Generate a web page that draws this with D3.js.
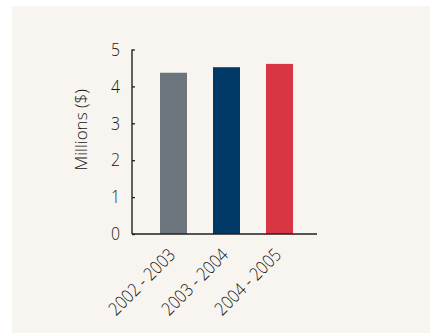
<!DOCTYPE html>
<html>
<head>
<meta charset="utf-8">
<script src="https://cdn.jsdelivr.net/npm/d3@7"></script>
<style>
  html, body { margin: 0; padding: 0; background: #ffffff; }
  svg { display: block; }
  text { font-family: "Open Sans", "Noto Sans", sans-serif; fill: #141414; }
</style>
</head>
<body>
<svg id="chart" width="430" height="333"></svg>
<script>
// Annual amounts, in millions of dollars
const periods = ["2002 - 2003", "2003 - 2004", "2004 - 2005"];
const amounts = [4.37, 4.52, 4.61];
const barColors = ["#6c757c", "#003866", "#d83545"];
const yTicks = [0, 1, 2, 3, 4, 5];

const svg = d3.select("#chart");

// Panel background
svg.append("rect")
  .attr("x", 12).attr("y", 6)
  .attr("width", 418).attr("height", 327)
  .attr("fill", "#f8f4ef");

const plotLeft = 132, plotRight = 317, plotTop = 49.5, plotBottom = 234;
const squeeze = 0.88; // horizontal compression of the label glyphs

// Bar centres along the x axis
const xc = d3.scalePoint()
  .domain(periods)
  .range([173.5, 279.5]);

const barW = 27;

const y = d3.scaleLinear().domain([0, 5]).range([plotBottom, plotTop]);

svg.append("g")
  .selectAll("rect")
  .data(periods)
  .join("rect")
  .attr("x", d => xc(d) - barW / 2)
  .attr("y", (d, i) => y(amounts[i]))
  .attr("width", barW)
  .attr("height", (d, i) => y(0) - y(amounts[i]))
  .attr("fill", (d, i) => barColors[i]);

// Y axis with inward ticks
const yAxis = svg.append("g")
  .attr("transform", `translate(${plotLeft},0)`)
  .call(d3.axisLeft(y).tickValues(yTicks).tickSize(-3).tickPadding(12 / squeeze).tickFormat(d3.format("d")));
yAxis.select(".domain").attr("d", `M0,${plotTop}V${plotBottom}`).attr("stroke", "#231f20").attr("stroke-width", 1.4);
yAxis.selectAll(".tick line").attr("stroke", "#231f20").attr("stroke-width", 1.3);
yAxis.selectAll(".tick text")
  .attr("transform", `scale(${squeeze},1)`)
  .style("font-size", "18px")
  .style("font-weight", 300)
  .attr("fill", "#141414");

// X axis baseline
svg.append("line")
  .attr("x1", plotLeft).attr("x2", plotRight)
  .attr("y1", plotBottom).attr("y2", plotBottom)
  .attr("stroke", "#231f20").attr("stroke-width", 1.4);

// Rotated category labels
svg.append("g")
  .selectAll("text")
  .data(periods)
  .join("text")
  .attr("transform", d => `translate(${xc(d) + 3},${plotBottom + 22}) rotate(-45) scale(${squeeze},1)`)
  .attr("text-anchor", "end")
  .style("font-size", "18px")
  .style("font-weight", 300)
  .text(d => d);

// Y axis title
svg.append("text")
  .attr("transform", `translate(87,${(plotTop + plotBottom) / 2 - 12}) rotate(-90)`)
  .attr("text-anchor", "middle")
  .style("font-size", "17px")
  .style("font-weight", 300)
  .text("Millions ($)");
</script>
</body>
</html>
